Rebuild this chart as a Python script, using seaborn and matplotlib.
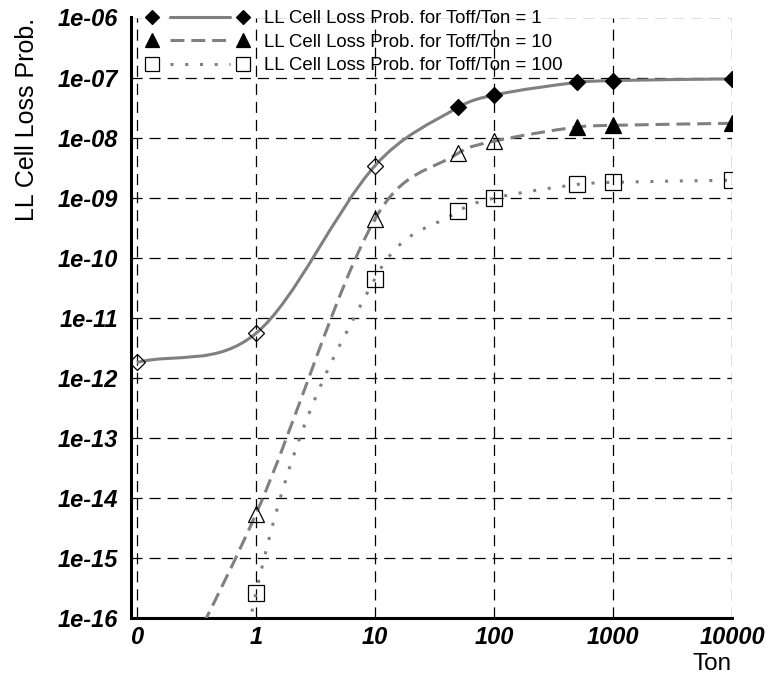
import numpy as np
import pandas as pd
import matplotlib
matplotlib.use("Agg")
import matplotlib.pyplot as plt
from matplotlib.path import Path
from matplotlib.patches import PathPatch
from matplotlib.lines import Line2D
from matplotlib.legend_handler import HandlerLine2D
import seaborn as sns

# ---------------- data ----------------
ton = [0, 1, 10, 50, 100, 500, 1000, 10000]
prob_ratio1 = [1.8e-12, 5.5e-12, 3.4e-9, 3.2e-8, 5.1e-8, 8.3e-8, 8.9e-8, 9.5e-8]
prob_ratio10 = [5.4e-19, 5.4e-15, 4.4e-10, 5.5e-9, 8.7e-9, 1.5e-8, 1.6e-8, 1.73e-8]
prob_ratio100 = [1e-28, 2.6e-16, 4.5e-11, 5.9e-10, 9.8e-10, 1.66e-9, 1.8e-9, 1.95e-9]
series_labels = ["LL Cell Loss Prob. for Toff/Ton = 1",
                 "LL Cell Loss Prob. for Toff/Ton = 10",
                 "LL Cell Loss Prob. for Toff/Ton = 100"]
x_tick_labels = ["0", "1", "10", "100", "1000", "10000"]
y_tick_labels = ["1e-06", "1e-07", "1e-08", "1e-09", "1e-10", "1e-11",
                 "1e-12", "1e-13", "1e-14", "1e-15", "1e-16"]
x_label = "Ton"
y_label = "LL Cell Loss Prob."

# ---------------- style ----------------
sns.set_theme(style="white")
plt.rcParams["font.family"] = ["Liberation Sans", "DejaVu Sans"]
plt.rcParams["lines.scale_dashes"] = False

GRAY = "#808080"
line_styles = ["-", (0, (10, 5)), (0, (2.2, 8.4))]
markers = ["D", "^", "s"]
marker_sizes = [7.8, 11, 11]
first_filled = [50, 500, None]   # markers from this Ton on are drawn filled


def xpos(t):
    t = np.asarray(t, dtype=float)
    return np.where(t > 0, np.log10(np.where(t > 0, t, 1.0)), -1.0)


rows = []
for lab, vals in zip(series_labels, [prob_ratio1, prob_ratio10, prob_ratio100]):
    for t, v in zip(ton, vals):
        rows.append({"series": lab, "Ton": t, "prob": v})
df = pd.DataFrame(rows)
df["pos"] = xpos(df["Ton"])

fig = plt.figure(figsize=(7.72, 6.86), dpi=100)
W, H = 772, 686
ax = fig.add_axes([131 / W, (H - 618) / H, (732 - 131) / W, (618 - 17.5) / H])
ax.set_yscale("log")

# markers
for i, lab in enumerate(series_labels):
    sub = df[df["series"] == lab]
    ff = first_filled[i]
    filled = sub["Ton"] >= ff if ff is not None else np.zeros(len(sub), bool)
    for is_filled, part in [(True, sub[filled]), (False, sub[~filled])]:
        if len(part) == 0:
            continue
        sns.lineplot(data=part, x="pos", y="prob", ax=ax, estimator=None,
                     sort=False, linestyle="", marker=markers[i],
                     markersize=marker_sizes[i],
                     markerfacecolor="black" if is_filled else "none",
                     markeredgecolor="black", markeredgewidth=0.9,
                     color="black", zorder=4, legend=False)

ax.set_xlim(-1.05, 4.0)
ax.set_ylim(1e-16, 1e-6)

xt = xpos([float(l) for l in x_tick_labels])
yt = [float(l) for l in y_tick_labels]
ax.set_xticks(xt, x_tick_labels)
ax.set_yticks(yt, y_tick_labels)
ax.set_xticks(xt, minor=True)
ax.set_yticks(yt, minor=True)
ax.xaxis.remove_overlapping_locs = False
ax.yaxis.remove_overlapping_locs = False
ax.tick_params(axis="both", which="major", direction="in", length=12.5,
               width=1.5, color="black", labelsize=17, labelcolor="black")
ax.tick_params(axis="both", which="minor", direction="out", length=3.2,
               width=1.5, color="black", labelleft=False, labelbottom=False)
ax.tick_params(axis="x", which="major", pad=5.5)
ax.tick_params(axis="y", which="major", pad=9.2)
for lbl in ax.get_xticklabels() + ax.get_yticklabels():
    lbl.set_fontweight("bold")
    lbl.set_fontstyle("italic")

ax.grid(True, which="major", color="black", linewidth=0.9,
        linestyle=(0, (8, 5)))
for s in ["top", "right"]:
    ax.spines[s].set_visible(False)
for s in ["left", "bottom"]:
    ax.spines[s].set_color("black")
    ax.spines[s].set_linewidth(2.2)

ax.set_xlabel(x_label, fontsize=17.5, loc="right", labelpad=3.5, color="black")
ax.set_ylabel(y_label, fontsize=18, loc="top", labelpad=13.5, color="black")


# smooth cubic Hermite curve through the points (in x-position / log10 y space)
def smooth_path(xs, ys):
    xs = np.asarray(xs, float)
    ly = np.log10(np.asarray(ys, float))
    n = len(xs)
    m = np.empty(n)
    m[0] = (ly[1] - ly[0]) / (xs[1] - xs[0])
    m[-1] = (ly[-1] - ly[-2]) / (xs[-1] - xs[-2])
    for i in range(1, n - 1):
        m[i] = (ly[i + 1] - ly[i - 1]) / (xs[i + 1] - xs[i - 1])
    verts = [(xs[0], ly[0])]
    codes = [Path.MOVETO]
    for i in range(n - 1):
        h = xs[i + 1] - xs[i]
        verts += [(xs[i] + h / 3, ly[i] + m[i] * h / 3),
                  (xs[i + 1] - h / 3, ly[i + 1] - m[i + 1] * h / 3),
                  (xs[i + 1], ly[i + 1])]
        codes += [Path.CURVE4] * 3
    v = np.array(verts)
    v[:, 1] = 10.0 ** v[:, 1]
    return Path(v, codes)


for i, lab in enumerate(series_labels):
    sub = df[df["series"] == lab]
    path = smooth_path(sub["pos"].to_numpy(), sub["prob"].to_numpy())
    patch = PathPatch(path, fill=False, edgecolor=GRAY, linewidth=2.2,
                      linestyle=line_styles[i], capstyle="butt", zorder=3)
    ax.add_patch(patch)


# legend: line segment stops short of the two end markers
class GapLineHandler(HandlerLine2D):
    def create_artists(self, legend, orig_handle, xdescent, ydescent,
                       width, height, fontsize, trans):
        artists = super().create_artists(legend, orig_handle, xdescent,
                                         ydescent, width, height, fontsize,
                                         trans)
        legline = artists[0]
        xd = np.asarray(legline.get_xdata(), float)
        yd = np.asarray(legline.get_ydata(), float)
        seg = Line2D([xd[0] + 0.95 * fontsize, xd[-1] - 0.7 * fontsize],
                     [yd[0], yd[-1]])
        seg.update_from(legline)
        seg.set_marker("None")
        seg.set_transform(trans)
        legline.set_linestyle("None")
        return [seg, legline]


handles = []
for i in range(3):
    handles.append(Line2D([0], [0], color=GRAY, linewidth=2.2,
                          linestyle=line_styles[i], marker=markers[i],
                          markersize=marker_sizes[i] * 0.9,
                          markerfacecolor="black" if i < 2 else "white",
                          markeredgecolor="black", markeredgewidth=0.9))
fs_leg = 13.4
leg = fig.legend(handles, series_labels, loc="upper left",
                 bbox_to_anchor=(146.5 / W, 1 - 10.0 / H),
                 bbox_transform=fig.transFigure, frameon=False,
                 fontsize=fs_leg, numpoints=2, handlelength=5.5,
                 handletextpad=0.8, labelspacing=0.36, borderpad=0,
                 borderaxespad=0,
                 handler_map={Line2D: GapLineHandler(numpoints=2)})
for t in leg.get_texts():
    t.set_color("black")

fig.savefig("out.png", dpi=100)
